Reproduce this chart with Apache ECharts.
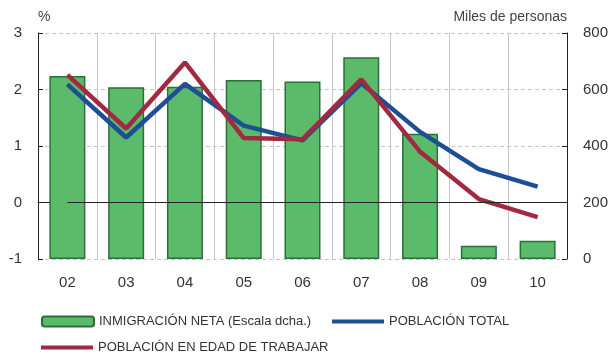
<!DOCTYPE html>
<html>
<head>
<meta charset="utf-8">
<script src="https://cdn.jsdelivr.net/npm/echarts@6/dist/echarts.min.js"></script>
<style>
  html, body { margin: 0; padding: 0; background: #fff; }
  #chart { width: 614px; height: 356px; }
</style>
</head>
<body>
<div id="chart"></div>
<script>
// años
var years = ['02', '03', '04', '05', '06', '07', '08', '09', '10'];
// inmigración neta, miles de personas (escala dcha.)
var inmigracion = [648, 608, 610, 634, 628, 714, 443, 47, 65];
// población total, %
var poblacionTotal = [2.09, 1.15, 2.10, 1.36, 1.10, 2.11, 1.25, 0.59, 0.28];
// población en edad de trabajar, %
var poblacionEdad = [2.26, 1.31, 2.48, 1.14, 1.12, 2.18, 0.90, 0.06, -0.26];

var labelFont = 'Liberation Sans';
var legendText = { fontFamily: 'Liberation Sans', fontSize: 13, color: '#333' };

var option = {
    animation: false,
    backgroundColor: '#fff',
    grid: {
        left: 38,
        right: 47,
        top: 33,
        bottom: 97
    },
    legend: [{
        left: 36,
        top: 310,
        itemWidth: 52,
        itemHeight: 10,
        itemGap: 6,
        data: ['INMIGRACIÓN NETA (Escala dcha.)'],
        textStyle: legendText
    }, {
        left: 327,
        top: 310,
        itemWidth: 52,
        itemHeight: 4,
        icon: 'rect',
        data: ['POBLACIÓN TOTAL'],
        textStyle: legendText
    }, {
        left: 36,
        top: 336,
        itemWidth: 52,
        itemHeight: 4,
        icon: 'rect',
        data: ['POBLACIÓN EN EDAD DE TRABAJAR'],
        textStyle: legendText
    }],
    xAxis: {
        type: 'category',
        data: years,
        boundaryGap: true,
        axisLine: { lineStyle: { color: '#222', width: 1 } },
        axisTick: { inside: true, length: 5, lineStyle: { color: '#222' } },
        axisLabel: { margin: 16, fontSize: 15, color: '#333', fontFamily: labelFont },
        splitLine: { show: true, lineStyle: { color: '#c8c8c8', width: 1, type: 'solid' } }
    },
    yAxis: [{
        type: 'value',
        min: -1,
        max: 3,
        interval: 1,
        name: '%',
        nameLocation: 'end',
        nameGap: 9,
        nameTextStyle: { align: 'left', fontSize: 14, color: '#444', fontFamily: labelFont },
        axisLine: { show: true, lineStyle: { color: '#222', width: 1 } },
        axisTick: { show: true, inside: true, length: 5, lineStyle: { color: '#222' } },
        axisLabel: { margin: 16, fontSize: 15, color: '#333', fontFamily: labelFont },
        splitLine: { show: true, lineStyle: { color: '#c4c4c4', type: [4, 3], width: 1 } }
    }, {
        type: 'value',
        min: 0,
        max: 800,
        interval: 200,
        position: 'right',
        name: 'Miles de personas',
        nameLocation: 'end',
        nameGap: 9,
        nameTextStyle: { align: 'right', fontSize: 14, color: '#444', fontFamily: labelFont },
        axisLine: { show: true, lineStyle: { color: '#222', width: 1 } },
        axisTick: { show: true, inside: true, length: 5, lineStyle: { color: '#222' } },
        axisLabel: { margin: 16, fontSize: 15, color: '#333', fontFamily: labelFont },
        splitLine: { show: false }
    }],
    series: [{
        name: 'INMIGRACIÓN NETA (Escala dcha.)',
        type: 'bar',
        yAxisIndex: 1,
        barWidth: 36,
        data: inmigracion,
        itemStyle: { color: '#5cbb6b', borderColor: '#2b6f39', borderWidth: 1.5 }
    }, {
        name: 'POBLACIÓN TOTAL',
        type: 'line',
        yAxisIndex: 0,
        data: poblacionTotal,
        showSymbol: false,
        symbol: 'none',
        lineStyle: { color: '#1c4f93', width: 4.5 },
        itemStyle: { color: '#1c4f93' },
        markLine: {
            silent: true,
            symbol: 'none',
            label: { show: false },
            lineStyle: { color: '#222', width: 1, type: 'solid' },
            data: [[{ coord: ['02', 0] }, { coord: ['10', 0] }]]
        }
    }, {
        name: 'POBLACIÓN EN EDAD DE TRABAJAR',
        type: 'line',
        yAxisIndex: 0,
        data: poblacionEdad,
        showSymbol: false,
        symbol: 'none',
        lineStyle: { color: '#a12a40', width: 4.5 },
        itemStyle: { color: '#a12a40' }
    }]
};

var myChart = echarts.init(document.getElementById('chart'));
myChart.setOption(option, true);
</script>
</body>
</html>
